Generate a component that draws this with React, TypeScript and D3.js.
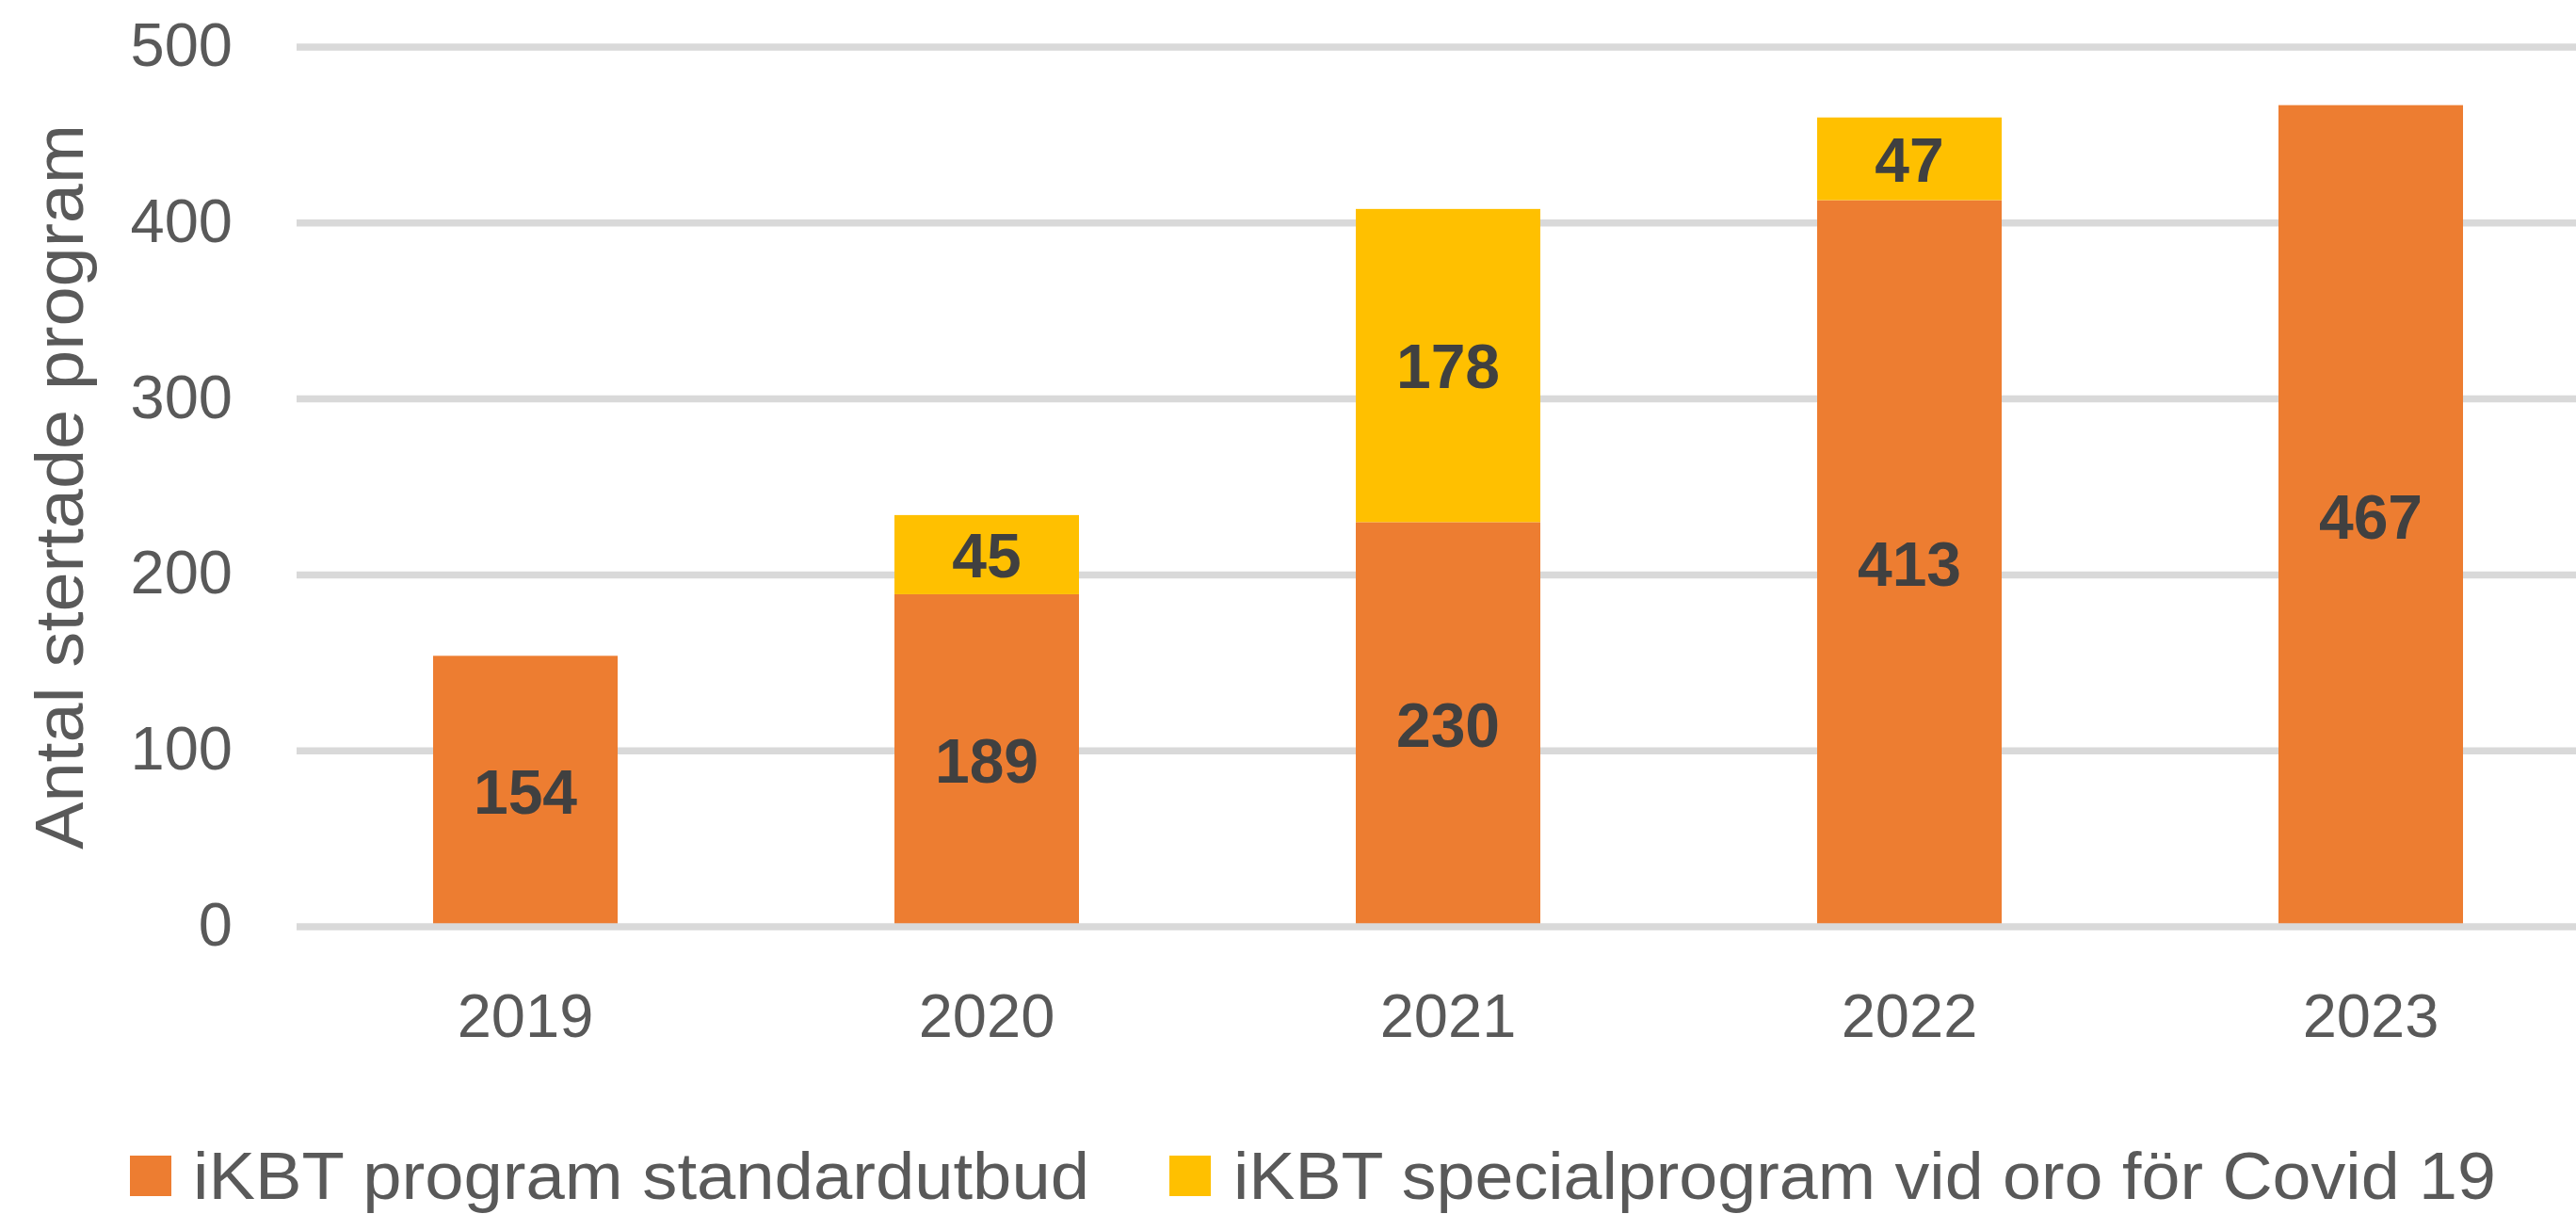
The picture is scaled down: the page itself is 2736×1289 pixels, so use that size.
import { useEffect, useRef } from "react";
import * as d3 from "d3";

const YEARS = ["2019", "2020", "2021", "2022", "2023"];
const STANDARD = [154, 189, 230, 413, 467];
const SPECIAL = [0, 45, 178, 47, 0];
const Y_TICKS = [0, 100, 200, 300, 400, 500];
const SERIES_KEYS = ["standard", "special"];
const SERIES_LABELS = [
  "iKBT program standardutbud",
  "iKBT specialprogram vid oro för Covid 19",
];
const COLORS: Record<string, string> = { standard: "#ED7D31", special: "#FFC000" };

const WIDTH = 2736;
const HEIGHT = 1289;
const FONT = "'Liberation Sans', Arial, sans-serif";

export default function App() {
  const svgRef = useRef<SVGSVGElement>(null);

  useEffect(() => {
    if (!svgRef.current) return;
    const svg = d3.select(svgRef.current);
    svg.selectAll("*").remove();

    const rows = YEARS.map((year, i) => ({ year, standard: STANDARD[i], special: SPECIAL[i] }));
    const stacked = d3.stack<any>().keys(SERIES_KEYS)(rows);

    const x = d3.scaleBand<string>().domain(YEARS).range([313, 2763]).paddingInner(0.6).paddingOuter(0.3);
    const y = d3.scaleLinear().domain([0, 500]).range([984, 50]);

    // gridlines (behind bars)
    svg.append("g")
      .selectAll("line")
      .data(Y_TICKS.filter((t) => t > 0))
      .join("line")
      .attr("x1", 315)
      .attr("x2", WIDTH)
      .attr("y1", (d) => y(d))
      .attr("y2", (d) => y(d))
      .attr("stroke", "#D9D9D9")
      .attr("stroke-width", 7.5);

    // bars
    const layers = svg.append("g")
      .selectAll("g")
      .data(stacked)
      .join("g")
      .attr("fill", (d) => COLORS[d.key]);

    layers.selectAll("rect")
      .data((d) => d.filter((s) => s[1] - s[0] > 0))
      .join("rect")
      .attr("x", (d) => x(d.data.year)!)
      .attr("width", x.bandwidth())
      .attr("y", (d) => y(d[1]))
      .attr("height", (d) => y(d[0]) - y(d[1]));

    // zero axis line drawn over the bars
    svg.append("line")
      .attr("x1", 315)
      .attr("x2", WIDTH)
      .attr("y1", y(0))
      .attr("y2", y(0))
      .attr("stroke", "#D9D9D9")
      .attr("stroke-width", 7.5);

    // data labels
    stacked.forEach((layer) => {
      svg.append("g")
        .selectAll("text")
        .data(layer.filter((s) => s[1] - s[0] > 0))
        .join("text")
        .attr("x", (d) => x(d.data.year)! + x.bandwidth() / 2)
        .attr("y", (d) => y((d[0] + d[1]) / 2) + 24)
        .attr("text-anchor", "middle")
        .attr("font-family", FONT)
        .attr("font-weight", "bold")
        .attr("font-size", 66)
        .attr("fill", "#404040")
        .text((d) => String(d[1] - d[0]));
    });

    // y tick labels
    svg.append("g")
      .selectAll("text")
      .data(Y_TICKS)
      .join("text")
      .attr("x", 247)
      .attr("y", (d) => y(d) + 20)
      .attr("text-anchor", "end")
      .attr("font-family", FONT)
      .attr("font-size", 65)
      .attr("fill", "#595959")
      .text((d) => String(d));

    // x tick labels
    svg.append("g")
      .selectAll("text")
      .data(YEARS)
      .join("text")
      .attr("x", (d) => x(d)! + x.bandwidth() / 2)
      .attr("y", 1101)
      .attr("text-anchor", "middle")
      .attr("font-family", FONT)
      .attr("font-size", 65)
      .attr("fill", "#595959")
      .text((d) => d);

    // y axis title
    svg.append("text")
      .attr("transform", `translate(88,${(y(0) + y(500)) / 2}) rotate(-90)`)
      .attr("text-anchor", "middle")
      .attr("font-family", FONT)
      .attr("font-size", 73)
      .attr("fill", "#595959")
      .attr("textLength", 770)
      .attr("lengthAdjust", "spacingAndGlyphs")
      .text("Antal stertade program");

    // legend
    const legendItems = [
      { key: SERIES_KEYS[0], label: SERIES_LABELS[0], sx: 138, tx: 205, tw: 952 },
      { key: SERIES_KEYS[1], label: SERIES_LABELS[1], sx: 1242, tx: 1310, tw: 1341 },
    ];
    const legend = svg.append("g");
    legendItems.forEach((item) => {
      legend.append("rect")
        .attr("x", item.sx)
        .attr("y", 1227)
        .attr("width", 44)
        .attr("height", 43)
        .attr("fill", COLORS[item.key]);
      legend.append("text")
        .attr("x", item.tx)
        .attr("y", 1273)
        .attr("font-family", FONT)
        .attr("font-size", 70)
        .attr("fill", "#595959")
        .attr("textLength", item.tw)
        .attr("lengthAdjust", "spacingAndGlyphs")
        .text(item.label);
    });
  }, []);

  return (
    <svg
      ref={svgRef}
      width={WIDTH}
      height={HEIGHT}
      viewBox={`0 0 ${WIDTH} ${HEIGHT}`}
      style={{ position: "absolute", left: 0, top: 0, background: "#fff" }}
    />
  );
}
